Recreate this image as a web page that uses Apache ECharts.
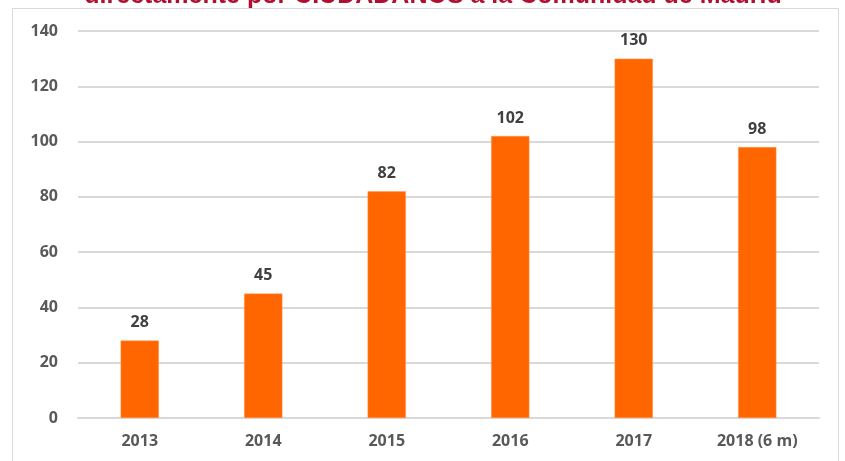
<!DOCTYPE html>
<html>
<head>
    <meta charset="UTF-8">
    <script type="text/javascript" src="https://cdn.jsdelivr.net/npm/echarts@6/dist/echarts.min.js"></script>
    <style type="text/css">
        *{
            margin: 0;
            padding: 0;
        }
        #main{
            width: 845px;
            height: 461px;
            background: #fff;
        }
    </style>
</head>
<body>
<div id="main"></div>
<script type="text/javascript">
    var years = ['2013', '2014', '2015', '2016', '2017', '2018 (6 m)'];
    var valores = [28, 45, 82, 102, 130, 98];
    var titulo = 'directamente por CIUDADANOS a la Comunidad de Madrid';

    var myChart = echarts.init(document.getElementById('main'));
    var option = {
        animation: false,
        graphic: [
            {
                type: 'rect',
                shape: {x: 12.5, y: 8.5, width: 826, height: 470},
                style: {fill: 'none', stroke: '#d9d9d9', lineWidth: 1},
                z: -1
            },
            {
                type: 'text',
                x: 433,
                y: 9,
                style: {
                    text: titulo,
                    fill: '#b0102f',
                    font: 'bold 25px "Liberation Sans", Arial, sans-serif',
                    textAlign: 'center',
                    textVerticalAlign: 'bottom'
                }
            }
        ],
        grid: {
            left: 78,
            right: 26,
            top: 31,
            bottom: 43
        },
        xAxis: {
            type: 'category',
            data: years,
            axisLine: {lineStyle: {color: '#d9d9d9', width: 2}},
            axisTick: {show: false},
            axisLabel: {
                margin: 15,
                color: '#595959',
                fontFamily: 'Open Sans',
                fontWeight: 'bold',
                fontSize: 16
            }
        },
        yAxis: {
            type: 'value',
            min: 0,
            max: 140,
            interval: 20,
            axisLine: {show: false},
            axisTick: {show: false},
            splitLine: {lineStyle: {color: '#d9d9d9', width: 2}},
            axisLabel: {
                margin: 20,
                color: '#595959',
                fontFamily: 'Open Sans',
                fontWeight: 'bold',
                fontSize: 16
            }
        },
        series: [{
            type: 'bar',
            data: valores,
            barWidth: '31%',
            itemStyle: {color: '#ff6600', borderColor: '#ff9a55', borderWidth: 0.5},
            label: {
                show: true,
                position: 'top',
                distance: 10,
                color: '#404040',
                fontFamily: 'Open Sans',
                fontWeight: 'bold',
                fontSize: 16
            }
        }]
    };
    myChart.setOption(option);
</script>
</body>
</html>
